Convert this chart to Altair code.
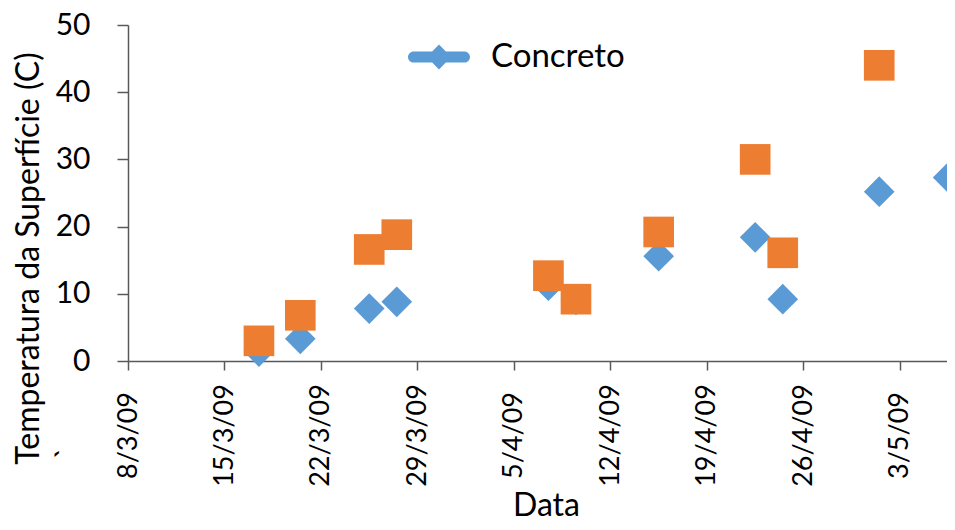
import altair as alt
import pandas as pd

# ---- data ----
concreto_datas = ["2009-03-17T12:00:00Z", "2009-03-20T12:00:00Z", "2009-03-25T12:00:00Z",
                  "2009-03-27T12:00:00Z", "2009-04-07T12:00:00Z", "2009-04-09T12:00:00Z",
                  "2009-04-15T12:00:00Z", "2009-04-22T12:00:00Z", "2009-04-24T12:00:00Z",
                  "2009-05-01T12:00:00Z", "2009-05-06T12:00:00Z"]
concreto_temp = [1.4, 3.3, 7.8, 8.8, 11.2, 9.1, 15.6, 18.4, 9.2, 25.2, 27.3]

serie2_datas = ["2009-03-17T12:00:00Z", "2009-03-20T12:00:00Z", "2009-03-25T12:00:00Z",
                "2009-03-27T12:00:00Z", "2009-04-07T12:00:00Z", "2009-04-09T12:00:00Z",
                "2009-04-15T12:00:00Z", "2009-04-22T12:00:00Z", "2009-04-24T12:00:00Z",
                "2009-05-01T12:00:00Z"]
serie2_temp = [3.0, 6.8, 16.6, 18.8, 12.7, 9.2, 19.2, 30.0, 16.1, 44.0]

series_names = ["Concreto", "Série 2"]
series_colors = ["#5B9BD5", "#ED7D31"]

x_ticks = [(2009, 3, 8), (2009, 3, 15), (2009, 3, 22), (2009, 3, 29), (2009, 4, 5),
           (2009, 4, 12), (2009, 4, 19), (2009, 4, 26), (2009, 5, 3)]
y_ticks = [0, 10, 20, 30, 40, 50]

df = pd.DataFrame({
    "data": concreto_datas + serie2_datas,
    "temp": concreto_temp + serie2_temp,
    "serie": [series_names[0]] * len(concreto_datas) + [series_names[1]] * len(serie2_datas),
})

FONT = "Lato"
legend_symbol = ("M-0.82,-0.18 L-0.22,-0.18 L0,-0.4 L0.22,-0.18 L0.82,-0.18 "
                 "A0.18,0.18 0 0 1 0.82,0.18 L0.22,0.18 L0,0.4 L-0.22,0.18 L-0.82,0.18 "
                 "A0.18,0.18 0 0 1 -0.82,-0.18 Z")

x_enc = alt.X(
    "data:T",
    scale=alt.Scale(type="utc", domain=[
        alt.DateTime(year=2009, month=3, date=8, utc=True),
        alt.DateTime(year=2009, month=5, date=6, hours=10, utc=True)]),
    axis=alt.Axis(
        values=[alt.DateTime(year=y, month=m, date=d, utc=True) for (y, m, d) in x_ticks],
        format="%-d/%-m/%y", labelAngle=-90, labelAlign="center", labelBaseline="middle",
        labelFontSize=27, labelPadding=65, tickSize=9,
        title="Data", titleFontSize=32, titleX=418, titleY=154,
        titleAlign="center", titleBaseline="alphabetic"),
)
y_enc = alt.Y(
    "temp:Q",
    scale=alt.Scale(domain=[0, 50]),
    axis=alt.Axis(
        values=y_ticks, labelFontSize=30, labelPadding=27, tickSize=11,
        title="Temperatura da Superfície (C)", titleFontSize=32,
        titleX=-100, titleY=233, titleAngle=270, titleAlign="center", titleBaseline="middle"),
)
color_enc = alt.Color(
    "serie:N",
    scale=alt.Scale(domain=series_names, range=series_colors),
    legend=alt.Legend(
        values=["Concreto"], title=None, orient="none", legendX=280, legendY=1,
        symbolType=legend_symbol, symbolSize=3844, symbolStrokeWidth=0, symbolOpacity=1,
        labelFont=FONT, labelFontSize=33, labelColor="black", labelOffset=21, padding=0),
)

base = alt.Chart(df).encode(x=x_enc, y=y_enc, color=color_enc)

diamonds = base.transform_filter(alt.datum.serie == "Concreto").mark_point(
    shape="diamond", filled=True, size=940, opacity=1)
squares = base.transform_filter(alt.datum.serie == "Série 2").mark_point(
    shape="square", filled=True, size=940, opacity=1)

stray = alt.Chart(pd.DataFrame({"t": ["`"]})).mark_text(
    angle=270, fontSize=30, font=FONT, color="black").encode(
    text="t:N", x=alt.value(-60), y=alt.value(428))

chart = alt.layer(diamonds, squares, stray).properties(
    width=819, height=336,
    autosize=alt.AutoSizeParams(type="none"),
    padding={"left": 120, "top": 17, "right": 0, "bottom": 161},
).configure_view(stroke=None).configure_axis(
    grid=False, domainColor="#595959", domainWidth=1.5, tickColor="#595959", tickWidth=1.5,
    labelFont=FONT, titleFont=FONT, labelColor="black", titleColor="black",
    titleFontWeight="normal",
)

chart.save("out.html", embed_options={"renderer": "svg", "actions": False})
